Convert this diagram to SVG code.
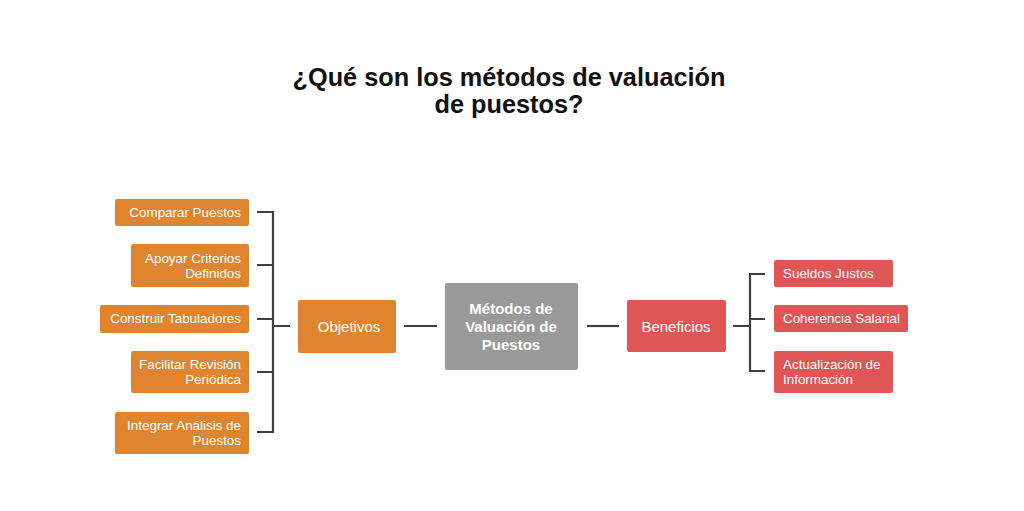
<svg xmlns="http://www.w3.org/2000/svg" width="1024" height="511" viewBox="0 0 1024 511">
<style>
.bg{fill:#ffffff}
.o{fill:#E0852F}
.r{fill:#E05555}
.g{fill:#999999}
text{font-family:"Liberation Sans",Arial,sans-serif;fill:#ffffff}
.t{font-size:13.4px}
.title{font-size:25.3px;font-weight:bold;fill:#111111}
.c{stroke:#3f3f3f;stroke-width:2.2;fill:none}
</style>
<rect class="bg" x="0" y="0" width="1024" height="511"/>
<g id="title">
<text class="title" x="509" y="86" text-anchor="middle">¿Qué son los métodos de valuación</text>
<text class="title" x="509" y="113" text-anchor="middle">de puestos?</text>
</g>
<g id="connectors">
<path class="c" d="M257,212 H273 V432 H257 M257,265 H273 M257,319 H273 M257,372 H273 M273,326 H290"/>
<path class="c" d="M404,326 H437"/>
<path class="c" d="M587,326 H619"/>
<path class="c" d="M733,326 H750 M765,274 H750 V371 H765 M750,319 H765"/>
</g>
<g id="comparar">
<rect class="o" x="115" y="199" width="134" height="27" rx="2"/>
<text class="t" x="241" y="217" text-anchor="end">Comparar Puestos</text>
</g>
<g id="apoyar">
<rect class="o" x="131" y="244" width="118" height="43" rx="2"/>
<text class="t" x="241" y="263" text-anchor="end">Apoyar Criterios</text>
<text class="t" x="241" y="278" text-anchor="end">Definidos</text>
</g>
<g id="construir">
<rect class="o" x="100" y="305" width="149" height="28" rx="2"/>
<text class="t" x="241" y="323" text-anchor="end">Construir Tabuladores</text>
</g>
<g id="facilitar">
<rect class="o" x="131" y="351" width="118" height="42" rx="2"/>
<text class="t" x="241" y="369" text-anchor="end">Facilitar Revisión</text>
<text class="t" x="241" y="384" text-anchor="end">Periódica</text>
</g>
<g id="integrar">
<rect class="o" x="115" y="412" width="134" height="42" rx="2"/>
<text class="t" x="241" y="430" text-anchor="end">Integrar Análisis de</text>
<text class="t" x="241" y="445" text-anchor="end">Puestos</text>
</g>
<g id="objetivos">
<rect class="o" x="298" y="300" width="98" height="53" rx="2"/>
<text x="349" y="332" text-anchor="middle" font-size="15">Objetivos</text>
</g>
<g id="metodos">
<rect class="g" x="445" y="283" width="133" height="87" rx="2"/>
<text x="511" y="314" text-anchor="middle" font-size="15" font-weight="bold">Métodos de</text>
<text x="511" y="332" text-anchor="middle" font-size="15" font-weight="bold">Valuación de</text>
<text x="511" y="350" text-anchor="middle" font-size="15" font-weight="bold">Puestos</text>
</g>
<g id="beneficios">
<rect class="r" x="627" y="300" width="99" height="52" rx="2"/>
<text x="676" y="332" text-anchor="middle" font-size="15">Beneficios</text>
</g>
<g id="sueldos">
<rect class="r" x="774" y="260" width="119" height="27" rx="2"/>
<text class="t" x="783" y="278">Sueldos Justos</text>
</g>
<g id="coherencia">
<rect class="r" x="774" y="305" width="134" height="27" rx="2"/>
<text class="t" x="783" y="323">Coherencia Salarial</text>
</g>
<g id="actualizacion">
<rect class="r" x="774" y="351" width="119" height="42" rx="2"/>
<text class="t" x="783" y="369">Actualización de</text>
<text class="t" x="783" y="384">Información</text>
</g>
</svg>
